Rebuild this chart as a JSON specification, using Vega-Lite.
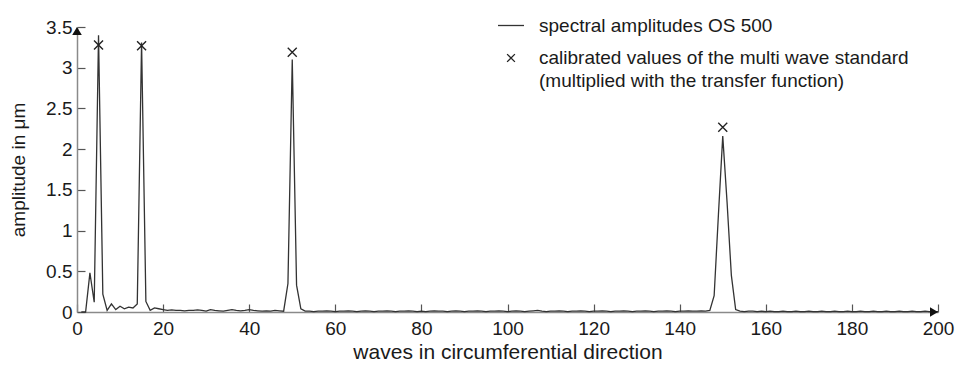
{
  "$schema": "https://vega.github.io/schema/vega-lite/v6.json",
  "width": 861,
  "height": 285,
  "autosize": {"type": "none"},
  "padding": {"left": 77, "top": 27, "right": 17, "bottom": 56},
  "background": "white",
  "config": {"view": {"stroke": null}, "font": "Liberation Sans"},
  "datasets": {
    "spectrum": [
      {"wave":1,"amp":0},{"wave":2,"amp":0},{"wave":3,"amp":0.48},{"wave":4,"amp":0.12},{"wave":5,"amp":3.4},
      {"wave":6,"amp":0.22},{"wave":7,"amp":0.02},{"wave":8,"amp":0.1},{"wave":9,"amp":0.03},{"wave":10,"amp":0.07},
      {"wave":11,"amp":0.04},{"wave":12,"amp":0.06},{"wave":13,"amp":0.05},{"wave":14,"amp":0.1},{"wave":15,"amp":3.31},
      {"wave":16,"amp":0.13},{"wave":17,"amp":0.02},{"wave":18,"amp":0.05},{"wave":19,"amp":0.04},{"wave":20,"amp":0.03},
      {"wave":21,"amp":0.02},{"wave":22,"amp":0.025},{"wave":23,"amp":0.02},{"wave":24,"amp":0.02},{"wave":25,"amp":0.015},
      {"wave":26,"amp":0.02},{"wave":27,"amp":0.02},{"wave":28,"amp":0.025},{"wave":29,"amp":0.02},{"wave":30,"amp":0.01},
      {"wave":31,"amp":0.03},{"wave":32,"amp":0.02},{"wave":33,"amp":0.015},{"wave":34,"amp":0.01},{"wave":35,"amp":0.02},
      {"wave":36,"amp":0.03},{"wave":37,"amp":0.02},{"wave":38,"amp":0.015},{"wave":39,"amp":0.02},{"wave":40,"amp":0.03},
      {"wave":41,"amp":0.02},{"wave":42,"amp":0.015},{"wave":43,"amp":0.01},{"wave":44,"amp":0.015},{"wave":45,"amp":0.01},
      {"wave":46,"amp":0.02},{"wave":47,"amp":0.015},{"wave":48,"amp":0.01},{"wave":49,"amp":0.35},{"wave":50,"amp":3.1},
      {"wave":51,"amp":0.33},{"wave":52,"amp":0.04},{"wave":53,"amp":0.01},{"wave":54,"amp":0.01},{"wave":55,"amp":0.005},
      {"wave":56,"amp":0.01},{"wave":57,"amp":0.01},{"wave":58,"amp":0.015},{"wave":59,"amp":0.01},{"wave":60,"amp":0.005},
      {"wave":61,"amp":0.01},{"wave":62,"amp":0.01},{"wave":63,"amp":0.015},{"wave":64,"amp":0.01},{"wave":65,"amp":0.005},
      {"wave":66,"amp":0.01},{"wave":67,"amp":0.015},{"wave":68,"amp":0.01},{"wave":69,"amp":0.005},{"wave":70,"amp":0.01},
      {"wave":71,"amp":0.01},{"wave":72,"amp":0.015},{"wave":73,"amp":0.01},{"wave":74,"amp":0.005},{"wave":75,"amp":0.01},
      {"wave":76,"amp":0.01},{"wave":77,"amp":0.015},{"wave":78,"amp":0.01},{"wave":79,"amp":0.005},{"wave":80,"amp":0.01},
      {"wave":81,"amp":0.005},{"wave":82,"amp":0.01},{"wave":83,"amp":0.015},{"wave":84,"amp":0.01},{"wave":85,"amp":0.01},
      {"wave":86,"amp":0.005},{"wave":87,"amp":0.01},{"wave":88,"amp":0.015},{"wave":89,"amp":0.01},{"wave":90,"amp":0.005},
      {"wave":91,"amp":0.01},{"wave":92,"amp":0.01},{"wave":93,"amp":0.015},{"wave":94,"amp":0.01},{"wave":95,"amp":0.005},
      {"wave":96,"amp":0.01},{"wave":97,"amp":0.01},{"wave":98,"amp":0.015},{"wave":99,"amp":0.01},{"wave":100,"amp":0.005},
      {"wave":101,"amp":0.01},{"wave":102,"amp":0.015},{"wave":103,"amp":0.01},{"wave":104,"amp":0.005},{"wave":105,"amp":0.01},
      {"wave":106,"amp":0.015},{"wave":107,"amp":0.02},{"wave":108,"amp":0.01},{"wave":109,"amp":0.005},{"wave":110,"amp":0.01},
      {"wave":111,"amp":0.01},{"wave":112,"amp":0.015},{"wave":113,"amp":0.01},{"wave":114,"amp":0.005},{"wave":115,"amp":0.01},
      {"wave":116,"amp":0.01},{"wave":117,"amp":0.015},{"wave":118,"amp":0.01},{"wave":119,"amp":0.005},{"wave":120,"amp":0.01},
      {"wave":121,"amp":0.01},{"wave":122,"amp":0.015},{"wave":123,"amp":0.01},{"wave":124,"amp":0.005},{"wave":125,"amp":0.01},
      {"wave":126,"amp":0.01},{"wave":127,"amp":0.015},{"wave":128,"amp":0.01},{"wave":129,"amp":0.005},{"wave":130,"amp":0.01},
      {"wave":131,"amp":0.01},{"wave":132,"amp":0.015},{"wave":133,"amp":0.01},{"wave":134,"amp":0.005},{"wave":135,"amp":0.01},
      {"wave":136,"amp":0.01},{"wave":137,"amp":0.015},{"wave":138,"amp":0.01},{"wave":139,"amp":0.005},{"wave":140,"amp":0.01},
      {"wave":141,"amp":0.01},{"wave":142,"amp":0.015},{"wave":143,"amp":0.01},{"wave":144,"amp":0.01},{"wave":145,"amp":0.015},
      {"wave":146,"amp":0.01},{"wave":147,"amp":0.02},{"wave":148,"amp":0.2},{"wave":149,"amp":1.2},{"wave":150,"amp":2.16},
      {"wave":151,"amp":1.35},{"wave":152,"amp":0.45},{"wave":153,"amp":0.03},{"wave":154,"amp":0.01},{"wave":155,"amp":0.005},
      {"wave":156,"amp":0.01},{"wave":157,"amp":0.01},{"wave":158,"amp":0.005},{"wave":159,"amp":0.01},{"wave":160,"amp":0.005},
      {"wave":161,"amp":0.01},{"wave":162,"amp":0.005},{"wave":163,"amp":0.005},{"wave":164,"amp":0.01},{"wave":165,"amp":0.005},
      {"wave":166,"amp":0.005},{"wave":167,"amp":0.01},{"wave":168,"amp":0.005},{"wave":169,"amp":0.005},{"wave":170,"amp":0.01},
      {"wave":171,"amp":0.005},{"wave":172,"amp":0.005},{"wave":173,"amp":0.01},{"wave":174,"amp":0.005},{"wave":175,"amp":0.005},
      {"wave":176,"amp":0.01},{"wave":177,"amp":0.005},{"wave":178,"amp":0.005},{"wave":179,"amp":0.01},{"wave":180,"amp":0.005},
      {"wave":181,"amp":0.005},{"wave":182,"amp":0.01},{"wave":183,"amp":0.005},{"wave":184,"amp":0.005},{"wave":185,"amp":0.01},
      {"wave":186,"amp":0.005},{"wave":187,"amp":0.005},{"wave":188,"amp":0.01},{"wave":189,"amp":0.005},{"wave":190,"amp":0.005},
      {"wave":191,"amp":0.01},{"wave":192,"amp":0.005},{"wave":193,"amp":0.005},{"wave":194,"amp":0.01},{"wave":195,"amp":0.005},
      {"wave":196,"amp":0.005},{"wave":197,"amp":0.01},{"wave":198,"amp":0.005},{"wave":199,"amp":0.005},{"wave":200,"amp":0.005}
    ],
    "calibrated": [
      {"wave":5,"amp":3.28},{"wave":15,"amp":3.27},{"wave":50,"amp":3.19},{"wave":150,"amp":2.27}
    ],
    "xArrow": [{"wave":200,"amp":0}],
    "yArrow": [{"wave":0,"amp":3.5}]
  },
  "encoding": {
    "x": {
      "field": "wave", "type": "quantitative",
      "scale": {"domain": [0, 200], "nice": false, "zero": false},
      "axis": {
        "title": "waves in circumferential direction",
        "values": [0,20,40,60,80,100,120,140,160,180,200],
        "grid": false, "labelFlush": false, "labelOverlap": false,
        "domainColor": "#8a8a8a", "domainWidth": 1.5,
        "tickColor": "#555", "tickSize": -8, "tickWidth": 1.2,
        "labelPadding": 15, "labelFontSize": 19, "labelColor": "#1a1a1a", "labelFont": "Liberation Sans",
        "titleFontSize": 21, "titleFontWeight": "normal", "titleColor": "#1a1a1a", "titleFont": "Liberation Sans",
        "titlePadding": 3,
        "encode": {"ticks": {"update": {"strokeOpacity": {"signal": "datum.value <= 0 || datum.value >= 200 ? 0 : 1"}}}}
      }
    },
    "y": {
      "field": "amp", "type": "quantitative",
      "scale": {"domain": [0, 3.5], "nice": false},
      "axis": {
        "title": "amplitude in μm",
        "values": [0,0.5,1,1.5,2,2.5,3,3.5],
        "format": "~g",
        "grid": false, "labelOverlap": false,
        "domainColor": "#8a8a8a", "domainWidth": 1.5,
        "tickColor": "#555", "tickSize": -8, "tickWidth": 1.2,
        "labelPadding": 13, "labelFontSize": 19, "labelColor": "#1a1a1a", "labelFont": "Liberation Sans",
        "titleFontSize": 19, "titleFontWeight": "normal", "titleColor": "#1a1a1a", "titleFont": "Liberation Sans",
        "titlePadding": 17,
        "encode": {"ticks": {"update": {"strokeOpacity": {"signal": "datum.value <= 0 || datum.value >= 3.5 ? 0 : 1"}}}}
      }
    }
  },
  "layer": [
    {
      "data": {"name": "spectrum"},
      "mark": {"type": "line", "strokeWidth": 1.3, "interpolate": "linear"},
      "encoding": {
        "stroke": {
          "datum": "spectral amplitudes OS 500",
          "scale": {
            "domain": ["spectral amplitudes OS 500", "calibrated values of the multi wave standard"],
            "range": ["#333333", "#222222"]
          },
          "legend": {
            "title": null,
            "orient": "none",
            "legendX": 420,
            "legendY": -15.5,
            "padding": 0,
            "symbolSize": 676,
            "symbolStrokeWidth": 1.3,
            "labelFontSize": 19,
            "labelFont": "Liberation Sans",
            "labelColor": "#1a1a1a",
            "labelLimit": 0,
            "labelOffset": 14,
            "rowPadding": 8.5,
            "labelExpr": "datum.value === 'spectral amplitudes OS 500' ? datum.label : ['calibrated values of the multi wave standard', '(multiplied with the transfer function)']",
            "encode": {
              "symbols": {"update": {
                "shape": {"signal": "datum.value === 'spectral amplitudes OS 500' ? 'stroke' : 'M-0.3,-0.3L0.3,0.3M-0.3,0.3L0.3,-0.3'"},
                "fill": {"value": "transparent"}
              }},
              "labels": {"update": {
                "lineHeight": {"value": 23}
              }}
            }
          }
        }
      }
    },
    {
      "data": {"name": "calibrated"},
      "mark": {"type": "point", "shape": "M-1,-1L1,1M-1,1L1,-1", "size": 81, "strokeWidth": 1.4, "filled": false, "opacity": 1},
      "encoding": {
        "stroke": {"datum": "calibrated values of the multi wave standard"}
      }
    },
    {
      "data": {"name": "xArrow"},
      "mark": {"type": "point", "shape": "M-2,-1.2L0,0L-2,1.2Z", "size": 64, "filled": true, "color": "#111111", "opacity": 1, "strokeWidth": 0}
    },
    {
      "data": {"name": "yArrow"},
      "mark": {"type": "point", "shape": "M-1.2,2L0,0L1.2,2Z", "size": 64, "filled": true, "color": "#111111", "opacity": 1, "strokeWidth": 0}
    }
  ]
}
